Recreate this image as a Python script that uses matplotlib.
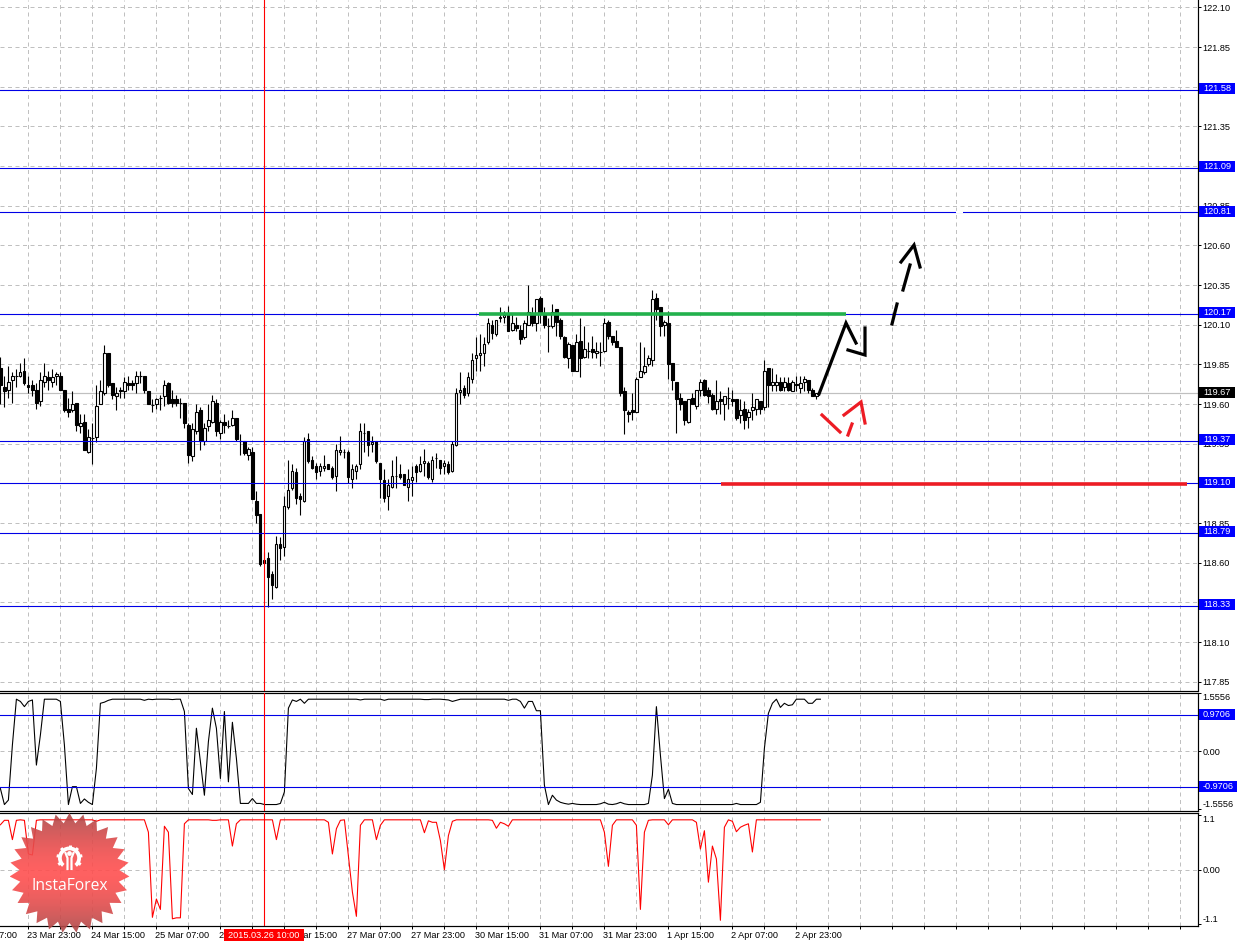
import numpy as np
import matplotlib
matplotlib.use("Agg")
import matplotlib.pyplot as plt
from matplotlib.patches import Polygon, Rectangle, Circle, Wedge

plt.rcParams["font.family"] = ["Liberation Sans", "DejaVu Sans"]

# hourly candles
highs = [
    119.90, 119.78, 119.84, 119.80, 119.82, 119.86, 119.89, 119.78, 119.75, 119.73,
    119.80, 119.86, 119.81, 119.82, 119.80, 119.80, 119.69, 119.64, 119.68, 119.61,
    119.54, 119.54, 119.44, 119.48, 119.72, 119.75, 119.97, 119.92, 119.73, 119.71,
    119.71, 119.77, 119.78, 119.75, 119.81, 119.81, 119.78, 119.68, 119.63, 119.64,
    119.66, 119.75, 119.74, 119.69, 119.66, 119.64, 119.61, 119.48, 119.48, 119.60,
    119.58, 119.48, 119.60, 119.66, 119.63, 119.50, 119.54, 119.50, 119.56, 119.51,
    119.41, 119.37, 119.33, 119.33, 119.05, 118.91, 118.67, 118.67, 118.55, 118.77,
    118.76, 119.02, 119.25, 119.22, 119.20,
    119.04, 119.39, 119.42, 119.27, 119.23, 119.23, 119.28, 119.22, 119.21, 119.35,
    119.40, 119.32, 119.31, 119.22, 119.22, 119.48, 119.48, 119.43, 119.40, 119.37,
    119.23, 119.19, 119.13, 119.25, 119.27, 119.22, 119.16, 119.19, 119.21, 119.22,
    119.27, 119.32, 119.24, 119.27, 119.29, 119.25, 119.25, 119.24, 119.37, 119.70,
    119.80, 119.72, 119.80, 119.92, 120.02, 120.04, 120.02, 120.14, 120.13, 120.13,
    120.21, 120.19, 120.22, 120.17, 120.15, 120.10, 120.13, 120.35, 120.21, 120.26,
    120.28, 120.21, 120.14, 120.23, 120.20,
    120.14, 120.03, 119.99, 119.97, 120.04, 120.14, 120.09, 119.99, 120.03, 119.99,
    119.99, 120.14, 120.13, 120.03, 120.07, 119.96, 119.71, 119.56, 119.67, 119.77,
    119.99, 119.96, 119.91, 120.32, 120.30, 120.21, 120.13, 120.19, 119.86, 119.74,
    119.67, 119.62, 119.63, 119.67, 119.69, 119.76, 119.76, 119.71, 119.67, 119.75,
    119.68, 119.65, 119.71, 119.69, 119.63, 119.63, 119.62, 119.57, 119.67, 119.63,
    119.62, 119.88, 119.83, 119.83, 119.79, 119.77, 119.77, 119.77, 119.75, 119.78,
    119.78, 119.78, 119.75, 119.70, 119.67,
]
lows = [
    119.60, 119.58, 119.64, 119.61, 119.71, 119.77, 119.72, 119.67, 119.65, 119.57,
    119.59, 119.71, 119.69, 119.71, 119.72, 119.69, 119.55, 119.52, 119.55, 119.43,
    119.42, 119.31, 119.29, 119.22, 119.36, 119.60, 119.66, 119.71, 119.63, 119.56,
    119.64, 119.64, 119.69, 119.69, 119.67, 119.73, 119.67, 119.60, 119.55, 119.57,
    119.56, 119.59, 119.60, 119.58, 119.59, 119.51, 119.45, 119.23, 119.24, 119.41,
    119.31, 119.34, 119.43, 119.48, 119.40, 119.38, 119.42, 119.45, 119.46, 119.37,
    119.28, 119.28, 119.25, 119.00, 118.85, 118.58, 118.59, 118.32, 118.37, 118.44,
    118.62, 118.64, 118.94, 119.06, 118.97,
    118.90, 118.98, 119.23, 119.19, 119.13, 119.15, 119.18, 119.19, 119.13, 119.05,
    119.28, 119.26, 119.10, 119.07, 119.13, 119.19, 119.30, 119.27, 119.30, 119.23,
    119.01, 118.98, 118.93, 119.07, 119.07, 119.13, 119.09, 118.99, 119.02, 119.11,
    119.17, 119.15, 119.13, 119.11, 119.20, 119.16, 119.16, 119.16, 119.17, 119.335,
    119.60, 119.64, 119.65, 119.73, 119.81, 119.81, 119.84, 119.98, 120.01, 120.03,
    120.12, 120.11, 120.06, 120.06, 120.06, 119.98, 120.01, 120.10, 120.09, 120.06,
    120.11, 120.08, 119.93, 120.08, 120.03,
    120.01, 119.89, 119.83, 119.81, 119.81, 119.77, 119.89, 119.89, 119.89, 119.89,
    119.84, 119.93, 120.01, 119.97, 119.96, 119.65, 119.41, 119.49, 119.50, 119.55,
    119.77, 119.79, 119.84, 119.84, 120.13, 120.03, 120.03, 119.76, 119.69, 119.42,
    119.56, 119.47, 119.48, 119.60, 119.57, 119.65, 119.65, 119.61, 119.56, 119.54,
    119.54, 119.50, 119.57, 119.59, 119.50, 119.48, 119.44, 119.45, 119.50, 119.53,
    119.54, 119.56, 119.58, 119.68, 119.68, 119.68, 119.68, 119.68, 119.68, 119.68,
    119.67, 119.68, 119.67, 119.65, 119.63,
]
opens = [
    119.83, 119.71, 119.69, 119.75, 119.775, 119.78, 119.81, 119.72, 119.72, 119.69,
    119.62, 119.74, 119.77, 119.74, 119.78, 119.78, 119.69, 119.57, 119.56, 119.61,
    119.46, 119.49, 119.30, 119.385, 119.39, 119.60, 119.67, 119.92, 119.73, 119.65,
    119.68, 119.68, 119.73, 119.73, 119.73, 119.78, 119.78, 119.68, 119.595, 119.60,
    119.64, 119.65, 119.73, 119.63, 119.63, 119.61, 119.61, 119.47, 119.27, 119.43,
    119.56, 119.37, 119.46, 119.49, 119.61, 119.42, 119.49, 119.46, 119.47, 119.51,
    119.37, 119.37, 119.28, 119.30, 118.99, 118.91, 118.62, 118.63, 118.53, 118.45,
    118.72, 118.70, 118.95, 119.07, 119.17,
    119.02, 118.99, 119.38, 119.25, 119.21, 119.18, 119.20, 119.22, 119.20, 119.15,
    119.30, 119.30, 119.30, 119.13, 119.18, 119.22, 119.42, 119.43, 119.35, 119.37,
    119.23, 119.12, 119.02, 119.08, 119.15, 119.16, 119.16, 119.08, 119.12, 119.21,
    119.18, 119.23, 119.23, 119.13, 119.26, 119.25, 119.21, 119.22, 119.18, 119.34,
    119.675, 119.70, 119.67, 119.76, 119.89, 119.91, 119.92, 119.99, 120.10, 120.04,
    120.14, 120.15, 120.17, 120.07, 120.10, 120.07, 120.02, 120.10, 120.16, 120.11,
    120.27, 120.17, 120.09, 120.09, 120.20,
    120.13, 120.02, 119.89, 119.97, 119.81, 120.00, 119.90, 119.935, 119.95, 119.92,
    119.93, 119.935, 120.12, 120.03, 120.00, 119.96, 119.68, 119.55, 119.56, 119.55,
    119.77, 119.80, 119.85, 119.88, 120.27, 120.21, 120.10, 120.11, 119.86, 119.74,
    119.64, 119.62, 119.49, 119.64, 119.59, 119.69, 119.75, 119.69, 119.66, 119.57,
    119.63, 119.60, 119.64, 119.63, 119.63, 119.53, 119.57, 119.52, 119.56, 119.57,
    119.62, 119.58, 119.83, 119.72, 119.72, 119.74, 119.71, 119.73, 119.68, 119.725,
    119.70, 119.74, 119.75, 119.69, 119.65,
]
closes = [
    119.72, 119.68, 119.74, 119.78, 119.775, 119.80, 119.73, 119.71, 119.69, 119.61,
    119.75, 119.78, 119.75, 119.77, 119.79, 119.69, 119.56, 119.55, 119.60, 119.47,
    119.48, 119.31, 119.39, 119.385, 119.59, 119.68, 119.92, 119.72, 119.66, 119.67,
    119.69, 119.74, 119.72, 119.72, 119.78, 119.78, 119.69, 119.60, 119.595, 119.63,
    119.64, 119.72, 119.61, 119.61, 119.61, 119.61, 119.48, 119.28, 119.44, 119.55,
    119.37, 119.45, 119.50, 119.62, 119.43, 119.49, 119.47, 119.46, 119.51, 119.38,
    119.37, 119.29, 119.32, 119.00, 118.90, 118.59, 118.60, 118.51, 118.46, 118.72,
    118.69, 118.96, 119.06, 119.18, 119.01,
    119.00, 119.37, 119.24, 119.20, 119.17, 119.21, 119.21, 119.19, 119.14, 119.31,
    119.31, 119.30, 119.14, 119.19, 119.21, 119.43, 119.42, 119.34, 119.36, 119.24,
    119.13, 119.01, 119.09, 119.15, 119.145, 119.14, 119.09, 119.13, 119.14, 119.17,
    119.22, 119.24, 119.14, 119.25, 119.26, 119.20, 119.23, 119.17, 119.35, 119.67,
    119.69, 119.66, 119.77, 119.88, 119.91, 119.92, 119.98, 120.11, 120.05, 120.13,
    120.15, 120.16, 120.06, 120.11, 120.08, 120.01, 120.11, 120.18, 120.11, 120.26,
    120.18, 120.10, 120.09, 120.18, 120.12,
    120.03, 119.90, 119.98, 119.81, 119.99, 119.89, 119.95, 119.935, 119.93, 119.935,
    119.93, 120.11, 120.03, 119.99, 119.96, 119.67, 119.56, 119.54, 119.55, 119.76,
    119.81, 119.84, 119.89, 120.26, 120.20, 120.09, 120.12, 119.85, 119.75, 119.63,
    119.60, 119.50, 119.63, 119.60, 119.69, 119.74, 119.66, 119.65, 119.57, 119.62,
    119.62, 119.65, 119.64, 119.62, 119.51, 119.56, 119.50, 119.55, 119.58, 119.63,
    119.57, 119.81, 119.72, 119.74, 119.74, 119.69, 119.74, 119.69, 119.74, 119.72,
    119.73, 119.76, 119.69, 119.65, 119.67,
]

# first indicator (black)
osc_black = [
    -1.00, -1.43, -1.31, 0.17, 1.40, 1.34, 1.20, 1.34, 1.38, -0.37,
    0.44, 1.40, 1.40, 1.40, 1.40, 1.34, 0.17, -1.43, -0.95, -0.95,
    -1.40, -1.28, -1.37, -1.43, -0.46, 1.29, 1.32, 1.37, 1.40, 1.40,
    1.40, 1.40, 1.40, 1.40, 1.40, 1.40, 1.37, 1.40, 1.39, 1.40,
    1.40, 1.40, 1.40, 1.39, 1.40, 1.40, 1.07, -1.00, -1.16, 0.62,
    -0.28, -1.18, 0.26, 1.16, 0.62, -0.73, 1.07, -0.82, 0.78, -0.19,
    -1.40, -1.40, -1.40, -1.27, -1.40, -1.40, -1.43, -1.43, -1.43, -1.43,
    -1.40, -1.09, 1.16, 1.38, 1.34, 1.40, 1.29, 1.40, 1.40, 1.40,
    1.40, 1.40, 1.40, 1.40, 1.40, 1.40, 1.40, 1.40, 1.40, 1.40,
    1.38, 1.40, 1.40, 1.40, 1.40, 1.40, 1.37, 1.40, 1.40, 1.40,
    1.40, 1.40, 1.40, 1.40, 1.40,
    1.40, 1.39, 1.39, 1.40, 1.40, 1.40, 1.39, 1.38, 1.34, 1.37,
    1.40, 1.40, 1.40, 1.40, 1.40, 1.40, 1.40, 1.40, 1.40, 1.40,
    1.40, 1.40, 1.37, 1.40, 1.40, 1.34, 1.16, 1.34, 1.34, 1.09,
    1.09, -0.91, -1.43, -1.18, -1.31, -1.37, -1.40, -1.42, -1.40, -1.42,
    -1.43, -1.43, -1.43, -1.43, -1.43, -1.41, -1.37, -1.42, -1.43, -1.41,
    -1.37, -1.41, -1.43, -1.43, -1.43, -1.43, -1.43, -1.40, -0.64, 1.20,
    -0.10, -1.27, -1.02, -1.40, -1.43, -1.43, -1.43, -1.43, -1.43, -1.43,
    -1.43, -1.43, -1.43, -1.43, -1.43, -1.43, -1.43, -1.43, -1.43, -1.40,
    -1.43, -1.43, -1.43, -1.43, -1.43, -1.37, 0.08, 1.02, 1.29, 1.40,
    1.18, 1.29, 1.23, 1.25, 1.40, 1.40, 1.40, 1.29, 1.29, 1.40,
    1.40,
]

# second indicator (red)
osc_red = [
    0.91, 1.00, 1.00, 0.61, 1.00, 1.01, 1.00, 0.32, 0.30, 1.00,
    1.01, 1.01, 1.01, 1.01, 1.01, 1.01, 1.01, 1.01, 1.01, 1.01,
    1.01, 1.01, 1.01, 1.01, 0.98, 1.01, 1.01, 1.01, 1.01, 1.01,
    1.01, 1.01, 1.01, 1.01, 1.01, 1.01, 1.01, 0.76, -0.96, -0.59,
    -0.80, 0.88, 0.76, -0.99, -0.97, -0.97, 0.93, 1.01, 1.01, 1.01,
    1.01, 1.01, 1.01, 1.00, 1.00, 1.01, 1.01, 1.01, 0.48, 0.93,
    1.01, 1.01, 1.01, 1.01, 1.01, 1.01, 1.01, 1.01, 1.01, 0.61,
    1.01, 1.01, 1.01, 1.01, 1.01, 1.01, 1.01, 1.01, 1.01, 1.01,
    1.01, 1.01, 0.96, 0.32, 0.83, 1.00, 1.01, 0.29, -0.45, -0.94,
    0.90, 1.01, 1.01, 1.01, 0.61, 0.90, 1.01, 1.01, 1.01, 1.01,
    1.01, 1.01, 1.01, 1.01, 1.01,
    1.01, 0.75, 0.99, 0.96, 0.96, 0.59, 0.00, 0.69, 0.98, 1.01,
    1.01, 1.01, 1.01, 1.01, 1.01, 1.01, 1.01, 1.01, 1.00, 0.84,
    0.96, 0.93, 0.88, 1.01, 1.01, 1.01, 1.01, 1.01, 1.01, 1.01,
    1.01, 1.01, 1.01, 1.01, 1.01, 1.01, 1.01, 1.01, 1.01, 1.01,
    1.01, 1.01, 1.01, 1.01, 1.01, 1.01, 0.76, 0.07, 0.90, 1.01,
    1.01, 1.01, 1.01, 1.01, 0.90, -0.80, 0.76, 1.00, 1.01, 1.01,
    1.01, 1.01, 0.91, 1.01, 1.01, 1.01, 1.01, 1.01, 1.01, 0.96,
    0.42, 0.79, -0.25, 0.48, 0.22, -1.02, 0.86, 1.01, 0.98, 0.77,
    0.86, 0.90, 0.93, 0.36, 1.01, 1.01, 1.01, 1.01, 1.01, 1.01,
    1.01, 1.01, 1.01, 1.01, 1.01, 1.01, 1.01, 1.01, 1.01, 1.01,
    1.01,
]

price_ticks = [122.10, 121.85, 121.60, 121.35, 121.10, 120.85, 120.60, 120.35, 120.10,
               119.85, 119.60, 119.35, 119.10, 118.85, 118.60, 118.35, 118.10, 117.85]
level_lines = [121.58, 121.09, 120.81, 120.17, 119.37, 119.10, 118.79, 118.33]
last_price = 119.67
band = 0.9706
date_idx = [-9, 7, 23, 39, 55, 71, 87, 103, 119, 135, 151, 167, 183, 199]
date_labels = ["23 Mar 07:00", "23 Mar 23:00", "24 Mar 15:00", "25 Mar 07:00", "25 Mar 23:00",
               "26 Mar 15:00", "27 Mar 07:00", "27 Mar 23:00", "30 Mar 15:00", "31 Mar 07:00",
               "31 Mar 23:00", "1 Apr 15:00", "2 Apr 07:00", "2 Apr 23:00"]
marker_idx = 66
marker_label = "2015.03.26 10:00"

# lines drawn by hand on the screenshot, in image pixels
black_strokes = [
    [(819, 394), (846, 323), (856, 343)],
    [(848, 350), (865, 355), (865, 328)],
    [(892, 324), (897, 304)],
    [(903, 290), (910, 265)],
    [(901, 262), (914, 245), (920, 267)],
]
red_strokes = [
    [(822, 415), (840, 432)],
    [(848, 435), (852, 424)],
    [(844, 415), (861, 402), (865, 423)],
]

W, H = 1239, 943
PX = 0.72  # one image pixel in points at dpi 100
FS = 9.2 * PX
GRID = "#c0c0c0"
BLUE = "#0000e6"


def panel(top, bottom, ylim):
    ax = fig.add_axes([0, 1 - bottom / H, 1197.5 / W, (bottom - top) / H])
    # candle 0 sits just left of the middle of pixel column 0, so snapping keeps it there
    ax.set_xlim(-0.1, 299.275)
    ax.set_ylim(*ylim)
    ax.set_axisbelow(True)
    ax.xaxis.grid(True, color=GRID, lw=PX, ls=(0, (4, 3.5)))
    ax.spines["left"].set_visible(False)
    for s in ["top", "right", "bottom"]:
        ax.spines[s].set_linewidth(1.2 * PX)
    ax.yaxis.tick_right()
    ax.set_xticks(np.arange(7, 300, 8))
    ax.tick_params(axis="x", labelbottom=False, length=0)
    ax.tick_params(axis="y", length=3 * PX, width=PX, pad=1.4, labelsize=FS)
    return ax


def value_box(ax, y, text, color, px_per_unit, width=36):
    # coloured price tag right of the axis
    h = 5.5 / px_per_unit
    off = 1 / px_per_unit
    ax.add_patch(Rectangle((1199 / 1197.5, y - h + off), width / 1197.5, 2 * h, fc=color, ec="none",
                           transform=ax.get_yaxis_transform(), clip_on=False, zorder=6))
    ax.text(1203 / 1197.5, y + off, text, color="white", fontsize=FS, va="center", ha="left",
            transform=ax.get_yaxis_transform(), clip_on=False, zorder=7)


fig = plt.figure(figsize=(W / 100, H / 100), dpi=100)

# price panel
ax = panel(0, 690.5, (117.795, 122.147))
ax.spines["top"].set_visible(False)
ax.yaxis.grid(True, color=GRID, lw=PX, ls=(0, (4, 3.5)))
ax.set_yticks(price_ticks, [f"{p:.2f}" for p in price_ticks])
ax.axhline(last_price, color=GRID, lw=1.2 * PX, zorder=1)

idx = np.arange(len(opens))
o, c = np.array(opens), np.array(closes)
body_low = np.minimum(o, c)
body_h = np.abs(c - o)
ax.vlines(idx, lows, highs, color="black", lw=1.1 * PX, zorder=3)
ax.bar(idx, body_h, bottom=body_low, width=0.55,
       color=["white" if cc >= oo else "black" for oo, cc in zip(o, c)],
       edgecolor="black", linewidth=1.1 * PX, zorder=4)
for lvl in level_lines:
    ax.axhline(lvl, color=BLUE, lw=1.1 * PX, zorder=5)
    value_box(ax, lvl, f"{lvl:.2f}", "#0000ff", 158.7)
value_box(ax, last_price, f"{last_price:.2f}", "black", 158.7)

# black oscillator
ax1 = panel(692.5, 810.5, (-1.59, 1.58))
ax1.set_yticks([1.5556, 0, -1.5556], ["1.5556", "0.00", "-1.5556"])
labels = ax1.get_yticklabels()
labels[0].set_va("top")
labels[2].set_va("bottom")
ax1.axhline(0, color=GRID, lw=PX, ls=(0, (4, 3.5)), zorder=1)
ax1.plot(np.arange(len(osc_black)), osc_black, color="black", lw=1.1 * PX, zorder=3)
ax1.axhline(band, color=BLUE, lw=1.1 * PX, zorder=4)
ax1.axhline(-band, color=BLUE, lw=1.1 * PX, zorder=4)
value_box(ax1, band, "0.9706", "#0000ff", 37.1)
value_box(ax1, -band, "-0.9706", "#0000ff", 37.1, width=38)

# red oscillator
ax2 = panel(812.5, 925.5, (-1.125, 1.158))
ax2.set_yticks([1.1, 0, -1.1], ["1.1", "0.00", "-1.1"])
labels = ax2.get_yticklabels()
labels[0].set_va("top")
labels[2].set_va("bottom")
ax2.axhline(0, color=GRID, lw=PX, ls=(0, (4, 3.5)), zorder=1)
ax2.plot(np.arange(len(osc_red)), osc_red, color="#ff0000", lw=1.1 * PX, zorder=3)
ax2.tick_params(axis="x", length=3 * PX, width=PX, direction="out")
for i, lbl in zip(date_idx, date_labels):
    ax2.annotate(lbl, (i, 0), xycoords=ax2.get_xaxis_transform(), xytext=(-0.7, -3.6),
                 textcoords="offset points", ha="left", va="top", fontsize=FS, annotation_clip=False)

for a in (ax, ax1, ax2):
    a.axvline(marker_idx, color="#ff0000", lw=1.1 * PX, zorder=5)

# overlay in image pixels for everything painted on the screenshot
ov = fig.add_axes([0, 0, 1, 1], zorder=10)
ov.patch.set_visible(False)
ov.axis("off")

ov.add_patch(Rectangle((224, 929), 80, 12, fc="#ff0000", ec="none"))
ov.text(264, 935, marker_label, color="white", fontsize=FS, ha="center", va="center")

ov.plot([721, 1187], [484, 484], color="#ed1c24", lw=3.6 * PX, solid_capstyle="butt")
ov.plot([479, 846], [313.5, 313.5], color="#22b14c", lw=3.6 * PX, solid_capstyle="butt")
ov.plot([956, 963], [212.3, 212.3], color="white", lw=2.4 * PX, solid_capstyle="butt")
for stroke in black_strokes:
    ov.plot(*zip(*stroke), color="black", lw=3.2 * PX, solid_joinstyle="miter")
for stroke in red_strokes:
    ov.plot(*zip(*stroke), color="#ed1c24", lw=3.2 * PX, solid_joinstyle="miter")

# InstaForex badge
cx, cy = 69.5, 873
n_teeth = 27
ang = np.linspace(0, 2 * np.pi, 2 * n_teeth, endpoint=False) + np.pi / 2
rad = np.where(np.arange(2 * n_teeth) % 2 == 0, 60, 50)
star = Polygon(np.column_stack([cx + rad * np.cos(ang), cy - rad * np.sin(ang)]),
               closed=True, fc="none", ec="none", transform=ov.transData)
ov.add_patch(star)
fade = np.abs(np.linspace(-1, 1, 120))[:, None] ** 1.6
grad = np.zeros((120, 1, 4))
grad[..., 0] = (1 - fade) * 1.0 + fade * 0.66
grad[..., 1] = (1 - fade) * 0.31 + fade * 0.28
grad[..., 2] = (1 - fade) * 0.31 + fade * 0.28
grad[..., 3] = 0.9
im = ov.imshow(grad, extent=(cx - 60, cx + 60, cy + 60, cy - 60), aspect="auto", zorder=2)
im.set_clip_path(star)
ov.set_xlim(0, W)
ov.set_ylim(H, 0)

ov.add_patch(Wedge((cx, 858), 11.5, 130, 50, width=3.8, fc="white", ec="none", zorder=3))
for a_deg in [-30, 10, 50, 90, 130, 170, 210]:
    ca, sa = np.cos(np.radians(a_deg)), np.sin(np.radians(a_deg))
    ov.plot([cx + 10 * ca, cx + 13 * ca], [858 - 10 * sa, 858 - 13 * sa], color="white", lw=3 * PX,
            solid_capstyle="butt", zorder=3)
ov.add_patch(Circle((cx, 853.5), 2.4, fc="white", ec="none", zorder=3))
ov.plot([cx - 4, cx - 2, cx - 2], [853, 858, 869], color="white", lw=2.2 * PX, zorder=3)
ov.plot([cx + 4, cx + 2, cx + 2], [853, 858, 869], color="white", lw=2.2 * PX, zorder=3)
ov.text(cx, 885.5, "InstaForex", color="white", family="Open Sans", fontsize=15.6 * PX,
        ha="center", va="center", zorder=3)

fig.savefig("out.png", dpi=100)
